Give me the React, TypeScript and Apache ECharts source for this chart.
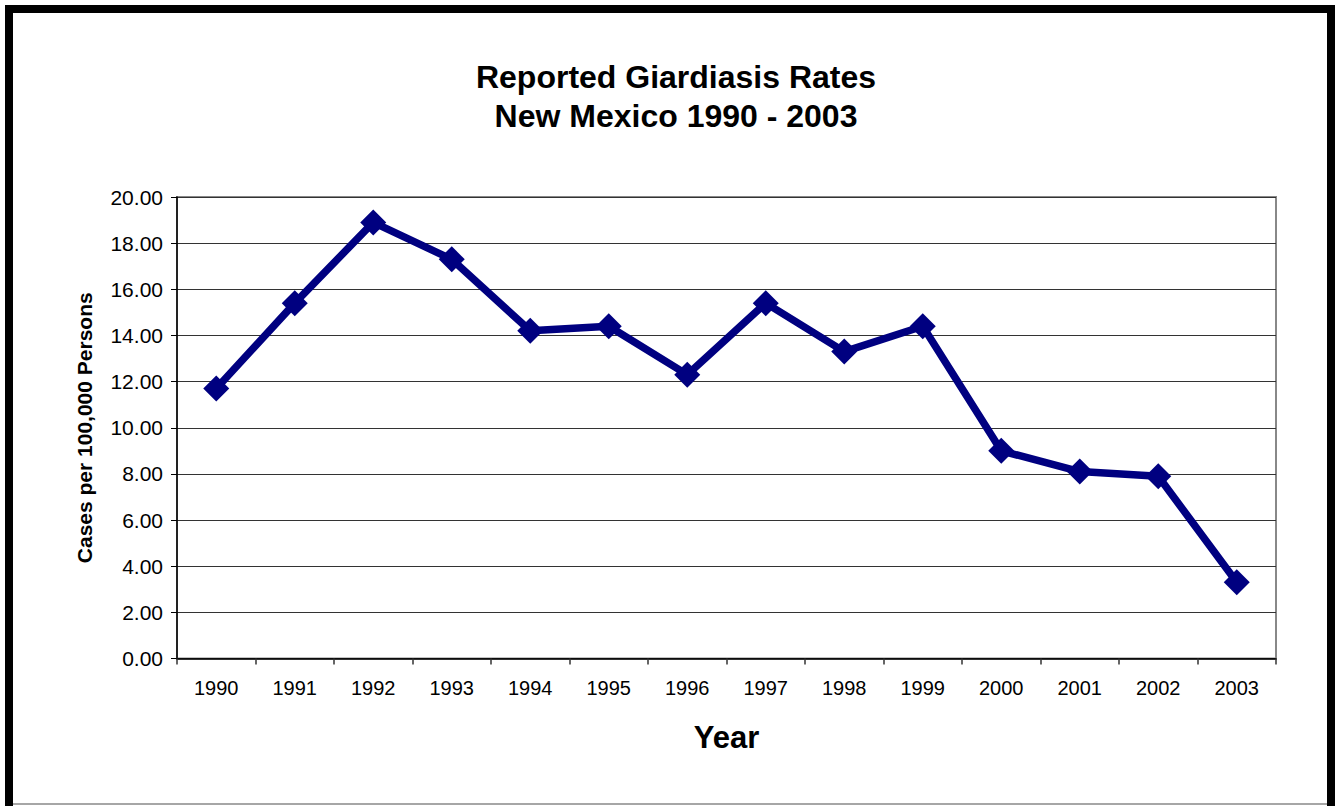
import React, { useEffect, useRef } from "react";
import * as echarts from "echarts";

const years = ["1990","1991","1992","1993","1994","1995","1996","1997","1998","1999","2000","2001","2002","2003"];
const rates = [11.7, 15.4, 18.9, 17.3, 14.2, 14.4, 12.3, 15.4, 13.3, 14.4, 9.0, 8.1, 7.9, 3.3];
const titleLines = ["Reported Giardiasis Rates", "New Mexico 1990 - 2003"];
const yAxisTitle = "Cases per 100,000 Persons";
const xAxisTitle = "Year";

const FONT = "'Liberation Sans', Arial, sans-serif";

export default function App() {
  const ref = useRef<HTMLDivElement>(null);
  useEffect(() => {
    document.body.style.margin = "0";
    const chart = echarts.init(ref.current!, null, { renderer: "svg" });
    chart.setOption({
      animation: false,
      backgroundColor: "#ffffff",
      title: {
        text: titleLines.join("\n"),
        top: 52,
        left: 671,
        textAlign: "center",
        textStyle: { fontFamily: FONT, fontWeight: "bold", fontSize: 32, lineHeight: 39, color: "#000" },
      },
      graphic: [
        { type: "rect", shape: { x: 9, y: 9, width: 1322, height: 1000 }, style: { fill: "none", stroke: "#000", lineWidth: 8 }, z: 100 },
        { type: "line", shape: { x1: 13, y1: 804, x2: 1327, y2: 804 }, style: { stroke: "#888", lineWidth: 1.5 }, z: 100 },
      ],
      grid: { left: 177, right: 64, top: 197, bottom: 147.5, show: true, borderColor: "#888", borderWidth: 2, backgroundColor: "transparent" },
      xAxis: {
        type: "category",
        data: years,
        boundaryGap: true,
        name: xAxisTitle,
        nameLocation: "middle",
        nameGap: 63,
        nameTextStyle: { fontFamily: FONT, fontWeight: "bold", fontSize: 31, color: "#000" },
        axisLine: { lineStyle: { color: "#000", width: 1.5 } },
        axisTick: { show: true, length: 6, lineStyle: { color: "#333", width: 1.5 } },
        axisLabel: { fontFamily: FONT, fontSize: 20, color: "#000", margin: 19 },
        splitLine: { show: false },
      },
      yAxis: {
        type: "value",
        min: 0,
        max: 20,
        interval: 2,
        name: yAxisTitle,
        nameLocation: "middle",
        nameGap: 82,
        nameTextStyle: { fontFamily: FONT, fontWeight: "bold", fontSize: 21, color: "#000" },
        axisLine: { show: true, lineStyle: { color: "#000", width: 1.5 } },
        axisTick: { show: true, length: 6, lineStyle: { color: "#000", width: 1 } },
        axisLabel: { fontFamily: FONT, fontSize: 21, color: "#000", margin: 14, formatter: (v: number) => v.toFixed(2) },
        splitLine: { show: true, lineStyle: { color: "#333", width: 1 } },
      },
      series: [
        {
          type: "line",
          data: rates,
          symbol: "diamond",
          symbolSize: 26,
          lineStyle: { color: "#000080", width: 7.5 },
          itemStyle: { color: "#000080" },
          z: 10,
        },
      ],
    });
    return () => chart.dispose();
  }, []);
  return <div ref={ref} style={{ width: 1340, height: 806 }} />;
}
